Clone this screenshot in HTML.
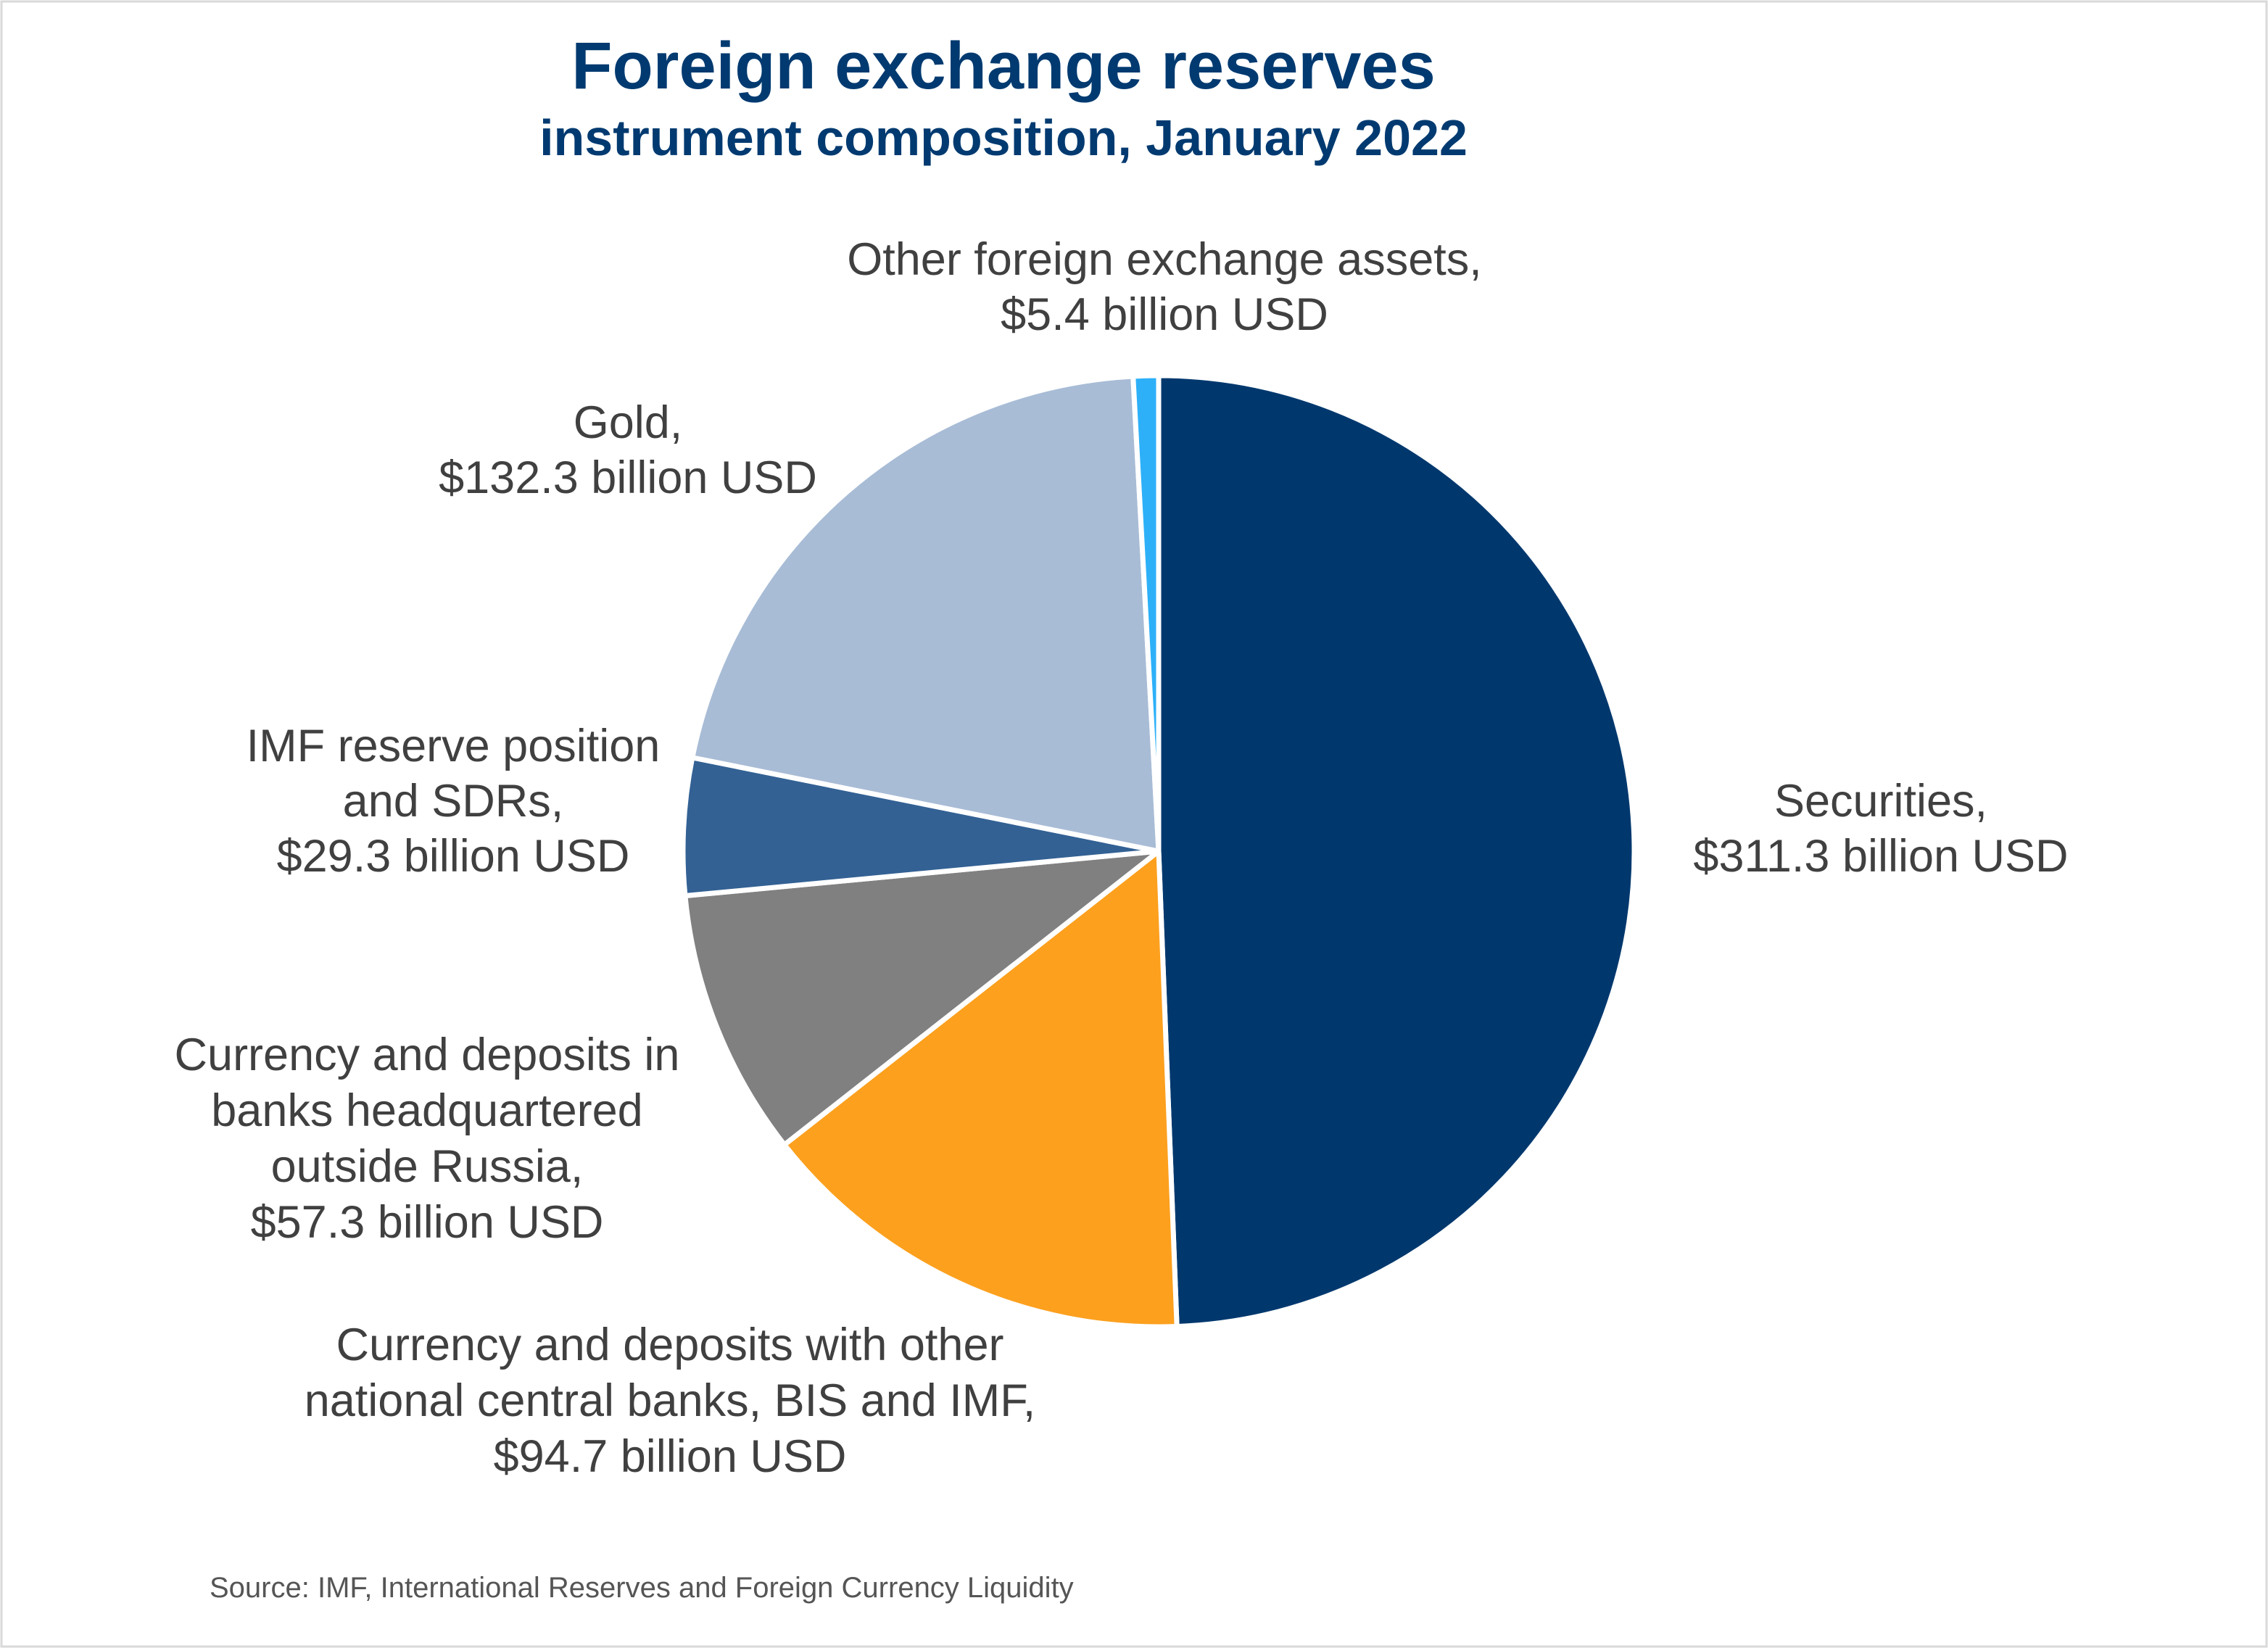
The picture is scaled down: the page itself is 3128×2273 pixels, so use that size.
<!DOCTYPE html>
<html><head><meta charset="utf-8"><style>
html,body{margin:0;padding:0;background:#fff}
svg{display:block}
text{font-family:"Liberation Sans",sans-serif}
</style></head><body>
<svg id="chart" width="3128" height="2273" viewBox="0 0 3128 2273">
<rect x="2" y="2" width="3124" height="2269" fill="#fff" stroke="#d9d9d9" stroke-width="3"/>
<text x="1384" y="122" text-anchor="middle" font-size="92" font-weight="bold" fill="#003a70">Foreign exchange reserves</text>
<text x="1384" y="214" text-anchor="middle" font-size="70" font-weight="bold" fill="#003a70">instrument composition, January 2022</text>
<g id="slices"></g>
<g id="labels" fill="#404040" font-size="63" text-anchor="middle">
<text x="2594" y="1126"><tspan x="2594">Securities,</tspan><tspan x="2594" dy="76">$311.3 billion USD</tspan></text>
<text x="924" y="1876"><tspan x="924">Currency and deposits with other</tspan><tspan x="924" dy="77">national central banks, BIS and IMF,</tspan><tspan x="924" dy="77">$94.7 billion USD</tspan></text>
<text x="589" y="1476"><tspan x="589">Currency and deposits in</tspan><tspan x="589" dy="77">banks headquartered</tspan><tspan x="589" dy="77">outside Russia,</tspan><tspan x="589" dy="77">$57.3 billion USD</tspan></text>
<text x="625" y="1050"><tspan x="625">IMF reserve position</tspan><tspan x="625" dy="76">and SDRs,</tspan><tspan x="625" dy="76">$29.3 billion USD</tspan></text>
<text x="866" y="604"><tspan x="866">Gold,</tspan><tspan x="866" dy="76">$132.3 billion USD</tspan></text>
<text x="1606" y="379"><tspan x="1606">Other foreign exchange assets,</tspan><tspan x="1606" dy="76">$5.4 billion USD</tspan></text>
</g>
<text x="289" y="2203" font-size="40" fill="#555">Source: IMF, International Reserves and Foreign Currency Liquidity</text>
</svg>
<script>
const categories = ["Securities","Currency and deposits with other national central banks, BIS and IMF","Currency and deposits in banks headquartered outside Russia","IMF reserve position and SDRs","Gold","Other foreign exchange assets"];
const values = [311.3, 94.7, 57.3, 29.3, 132.3, 5.4];
const colors = ["#00386e","#fca01e","#808080","#336194","#a8bcd6","#2db0f8"];
const cx = 1598, cy = 1174, r = 656;
const total = values.reduce((a,b)=>a+b,0);
const g = document.getElementById('slices');
let acc = 0;
function pt(frac){const a = frac*2*Math.PI - Math.PI/2; return [cx + r*Math.cos(a), cy + r*Math.sin(a)];}
values.forEach((v,i)=>{
  const f0 = acc/total, f1 = (acc+v)/total; acc += v;
  const p0 = pt(f0), p1 = pt(f1);
  const large = (f1-f0) > 0.5 ? 1 : 0;
  const path = document.createElementNS('http://www.w3.org/2000/svg','path');
  path.setAttribute('d', `M${cx},${cy} L${p0[0]},${p0[1]} A${r},${r} 0 ${large} 1 ${p1[0]},${p1[1]} Z`);
  path.setAttribute('fill', colors[i]);
  path.setAttribute('stroke', '#fff');
  path.setAttribute('stroke-width', '7');
  path.setAttribute('stroke-linejoin', 'round');
  
  
  g.appendChild(path);
});
</script>
</body></html>
